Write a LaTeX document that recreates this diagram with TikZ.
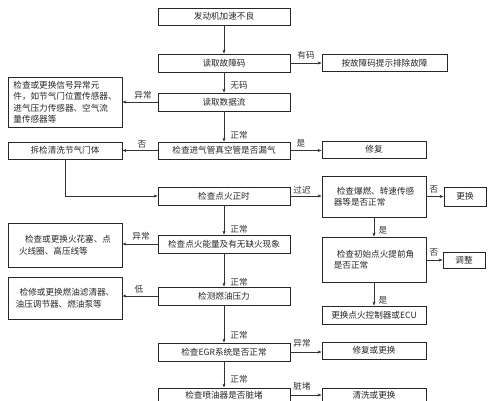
\documentclass[tikz,border=0pt]{standalone}
\usepackage{fontspec}
\newfontfamily\cjk{Noto Sans CJK SC}
\usetikzlibrary{arrows.meta}
\begin{document}
\begin{tikzpicture}[x=1pt,y=-1pt,
  box/.style={draw=black!85, line width=0.8pt, inner sep=0pt, text=black!85,
    font=\cjk\fontsize{8.6}{11.5}\selectfont},
  mbox/.style={box, minimum width=132pt, minimum height=18pt},
  lbox/.style={box, minimum width=114pt},
  rbox/.style={box, minimum width=104pt},
  sbox/.style={box, minimum width=42pt},
  lab/.style={font=\cjk\fontsize{8.6}{10}\selectfont, text=black!80, inner sep=0pt},
  arr/.style={draw=black!80, line width=0.6pt, -{Stealth[length=4pt,width=3pt]}}]
\useasboundingbox (0,0) rectangle (494,400);
\clip (0,0) rectangle (494,400);
\fill[white] (0,0) rectangle (494,400);
% main column
\node[mbox, minimum height=17pt] (b1) at (224,16.5) {发动机加速不良};
\node[mbox] (b2) at (224,63) {读取故障码};
\node[mbox] (b3) at (224,102) {读取数据流};
\node[mbox, minimum height=17pt] (b4) at (224,150.5) {检查进气管真空管是否漏气};
\node[mbox] (b5) at (224,196) {检查点火正时};
\node[mbox] (b6) at (224,244) {检查点火能量及有无缺火现象};
\node[mbox] (b7) at (224,296) {检测燃油压力};
\node[mbox] (b8) at (224,352) {检查EGR系统是否正常};
\node[mbox, minimum height=14pt] (b9) at (224,395) {检查喷油器是否脏堵};
% left column
\node[lbox, minimum height=50pt, align=left] (l3) at (65,102) {检查或更换信号异常元\\件，如节气门位置传感器、\\进气压力传感器、空气流\\量传感器等};
\node[lbox, minimum height=17pt] (l4) at (65,150.5) {拆检清洗节气门体};
\node[lbox, minimum height=44pt, align=left] (l6) at (65,245) {\hspace{6pt}检查或更换火花塞、点\\火线圈、高压线等};
\node[lbox, minimum height=42pt, align=left] (l7) at (65,298) {\hspace{4pt}检修或更换燃油滤清器、\\油压调节器、燃油泵等};
% right column
\node[box, minimum width=125pt, minimum height=17pt] (r2) at (384.5,63) {按故障码提示排除故障};
\node[rbox, minimum height=17pt] (r4) at (374,149.5) {修复};
\node[rbox, minimum height=41pt, align=left] (r5) at (374,196.5) {\hspace{3pt}检查爆燃、转速传感\\器等是否正常};
\node[rbox, minimum height=45pt, align=left] (r6) at (374,259.5) {\hspace{3pt}检查初始点火提前角\\是否正常};
\node[rbox, minimum height=18pt] (r7) at (374,315) {更换点火控制器或ECU};
\node[rbox, minimum height=17pt] (r8) at (374,350.5) {修复或更换};
\node[rbox, minimum height=14pt] (r9) at (374,395) {清洗或更换};
% small boxes
\node[sbox, minimum height=19pt] (s5) at (465,196.5) {更换};
\node[sbox, minimum height=16pt] (s6) at (464,260) {调整};
% connectors
\draw[arr] (b1) -- (b2);
\draw[arr] (b2) -- (b3);
\draw[arr] (b3) -- (b4);
\draw[arr] (b2.east) -- (r2.west);
\draw[arr] (b3.west) -- (l3.east |- b3.west);
\draw[arr] (b4.west) -- (l4.east);
\draw[arr] (b4.east) -- (b4.east -| r4.west);
\coordinate (c4) at (l4.south |- b5.west);
\draw[arr] (l4.south) -- (c4) -- (b5.west);
\draw[arr] (b5.east) -- (b5.east -| r5.west);
\draw[arr] (r5.east) -- (r5.east -| s5.west);
\draw[arr] (r5.south) -- (r6.north);
\draw[arr] (r6.east |- s6.west) -- (s6.west);
\draw[arr] (r6.south) -- (r7.north);
\draw[arr] (b5) -- (b6);
\draw[arr] (b6.west) -- (b6.west -| l6.east);
\draw[arr] (b6) -- (b7);
\draw[arr] (b7.west) -- (b7.west -| l7.east);
\draw[arr] (b7) -- (b8);
\draw[arr] (b8.east) -- (b8.east -| r8.west);
\draw[arr] (b8) -- (b9);
\draw[arr] (b9.east) -- (r9.west);
% labels
\node[lab] (t1) at (239,85) {无码};
\node[lab] (t2) at (306,55) {有码};
\node[lab] (t3) at (143,95) {异常};
\node[lab] (t4) at (239,135) {正常};
\node[lab] (t5) at (142,144) {否};
\node[lab] (t6) at (301,143) {是};
\node[lab] (t7) at (302,190) {过迟};
\node[lab] (t8) at (434,189) {否};
\node[lab] (t9) at (383,230) {是};
\node[lab] (t10) at (434,252) {否};
\node[lab] (t11) at (383,300) {是};
\node[lab] (t12) at (239,229) {正常};
\node[lab] (t13) at (141,236) {异常};
\node[lab] (t14) at (239,282) {正常};
\node[lab] (t15) at (139,289) {低};
\node[lab] (t16) at (239,335) {正常};
\node[lab] (t17) at (302,343) {异常};
\node[lab] (t18) at (239,379) {正常};
\node[lab] (t19) at (302,386) {脏堵};
\end{tikzpicture}
\end{document}
